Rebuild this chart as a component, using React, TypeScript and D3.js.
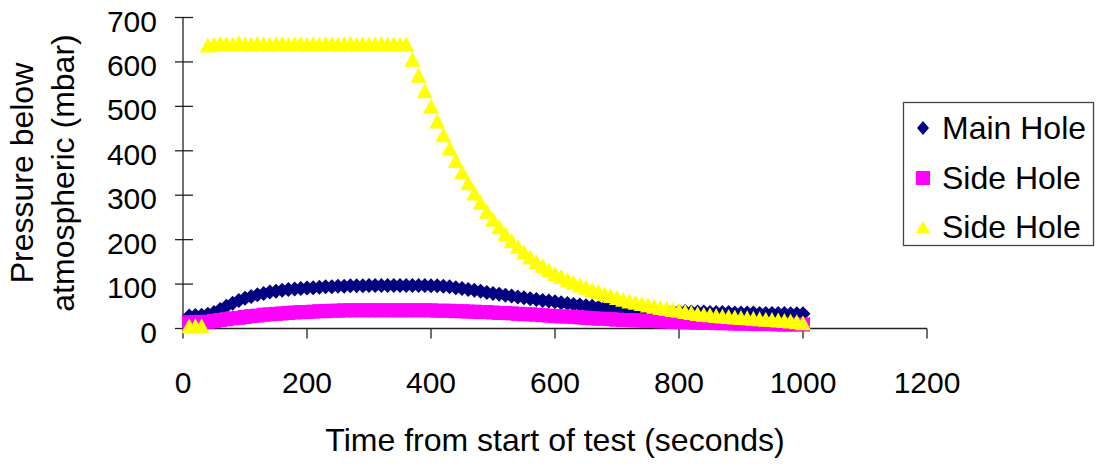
import React, { useRef, useEffect } from "react";
import * as d3 from "d3";

// Sample times (seconds)
const times = [
  10, 20, 30, 40, 50, 60, 70, 80, 90, 100,
  110, 120, 130, 140, 150, 160, 170, 180, 190, 200,
  210, 220, 230, 240, 250, 260, 270, 280, 290, 300,
  310, 320, 330, 340, 350, 360, 370, 380, 390, 400,
  410, 420, 430, 440, 450, 460, 470, 480, 490, 500,
  510, 520, 530, 540, 550, 560, 570, 580, 590, 600,
  610, 620, 630, 640, 650, 660, 670, 680, 690, 700,
  710, 720, 730, 740, 750, 760, 770, 780, 790, 800,
  810, 820, 830, 840, 850, 860, 870, 880, 890, 900,
  910, 920, 930, 940, 950, 960, 970, 980, 990, 1000,
];

// Main Hole (mbar)
const mainHole = [
  28, 29, 30, 32, 36, 43, 50, 57, 63, 68,
  72, 76, 79, 82, 84, 86, 88, 89, 90, 91,
  92, 93, 94, 94, 95, 95, 96, 96, 96, 97,
  97, 97, 97, 97, 97, 97, 97, 97, 97, 96,
  96, 95, 94, 92, 90, 88, 86, 84, 81, 79,
  77, 75, 73, 71, 69, 67, 65, 63, 62, 60,
  58, 56, 54, 53, 51, 50, 48, 47, 46, 45,
  44, 43, 42, 41, 40, 40, 39, 39, 38, 38,
  38, 37, 37, 37, 36, 36, 36, 36, 35, 35,
  35, 35, 34, 34, 34, 34, 34, 33, 33, 33,
];

// Side Hole (first)
const sideHoleA = [
  14, 14, 15, 15, 17, 19, 21, 23, 24, 26,
  28, 29, 31, 32, 33, 34, 35, 36, 37, 37,
  38, 39, 39, 40, 40, 41, 41, 41, 41, 41,
  41, 41, 41, 41, 41, 41, 41, 41, 41, 41,
  40, 40, 40, 39, 39, 38, 38, 37, 37, 36,
  35, 35, 34, 33, 32, 32, 31, 30, 29, 28,
  27, 27, 26, 25, 24, 23, 22, 22, 21, 20,
  19, 19, 18, 18, 17, 17, 16, 16, 15, 15,
  14, 14, 13, 13, 13, 12, 12, 12, 11, 11,
  11, 10, 10, 10, 10, 9, 9, 9, 9, 9,
];

// Side Hole (second)
const sideHoleB = [
  6, 6, 6, 638, 640, 642, 641, 640, 643, 641,
  640, 642, 641, 640, 641, 642, 640, 641, 642, 640,
  641, 640, 642, 641, 640, 641, 642, 640, 641, 640,
  641, 642, 640, 641, 640, 641, 606, 570, 535, 500,
  467, 436, 406, 378, 352, 328, 305, 284, 264, 246,
  229, 213, 198, 185, 172, 161, 150, 141, 132, 124,
  117, 110, 104, 98, 93, 88, 83, 78, 74, 70,
  66, 62, 59, 56, 53, 50, 47, 45, 43, 41,
  38, 36, 34, 32, 31, 29, 28, 27, 26, 25,
  24, 23, 22, 21, 20, 19, 18, 17, 15, 13,
];

const xTicks = [0, 200, 400, 600, 800, 1000, 1200];
const yTicks = [0, 100, 200, 300, 400, 500, 600, 700];

const seriesNames = ["Main Hole", "Side Hole", "Side Hole"];
const seriesColors = ["#000080", "#FF00FF", "#FFFF00"];
const seriesShapes = ["diamond", "square", "triangle"];

const FONT = "'Liberation Sans', Arial, sans-serif";

// marker path centered on 0,0
function markerPath(shape: string, w: number, h: number) {
  const p = d3.path();
  if (shape === "diamond") {
    p.moveTo(0, -h / 2);
    p.lineTo(w / 2, 0);
    p.lineTo(0, h / 2);
    p.lineTo(-w / 2, 0);
  } else if (shape === "square") {
    p.rect(-w / 2, -h / 2, w, h);
  } else {
    p.moveTo(0, -h / 2);
    p.lineTo(w / 2, h / 2);
    p.lineTo(-w / 2, h / 2);
  }
  p.closePath();
  return p.toString();
}

const plotSizes: Record<string, [number, number]> = {
  diamond: [15, 15],
  square: [14, 14],
  triangle: [16, 15],
};
const legendSizes: Record<string, [number, number]> = {
  diamond: [12, 14],
  square: [14, 14],
  triangle: [14, 12],
};

const App: React.FC = () => {
  const svgRef = useRef<SVGSVGElement>(null);

  useEffect(() => {
    if (!svgRef.current) return;
    const svg = d3.select(svgRef.current);
    svg.selectAll("*").remove();

    const x = d3.scaleLinear().domain([0, 1200]).range([183, 927]);
    const y = d3.scaleLinear().domain([0, 700]).range([328.5, 17.5]);

    const axisColor = "#222";

    // Y axis
    svg.append("line")
      .attr("x1", x(0)).attr("x2", x(0))
      .attr("y1", y(700)).attr("y2", y(0))
      .attr("stroke", axisColor).attr("stroke-width", 1.3);
    svg.selectAll(".ytick")
      .data(yTicks)
      .enter()
      .append("line")
      .attr("x1", x(0) - 8).attr("x2", x(0) + 10)
      .attr("y1", d => y(d)).attr("y2", d => y(d))
      .attr("stroke", axisColor).attr("stroke-width", 1.3);
    svg.selectAll(".ylab")
      .data(yTicks)
      .enter()
      .append("text")
      .attr("x", 157)
      .attr("y", d => y(d) + 14)
      .attr("text-anchor", "end")
      .style("font-family", FONT)
      .style("font-size", "30px")
      .text(d => d);

    // X axis
    svg.append("line")
      .attr("x1", x(0)).attr("x2", x(1200))
      .attr("y1", y(0)).attr("y2", y(0))
      .attr("stroke", axisColor).attr("stroke-width", 1.3);
    svg.selectAll(".xtick")
      .data(xTicks)
      .enter()
      .append("line")
      .attr("x1", d => x(d)).attr("x2", d => x(d))
      .attr("y1", y(0)).attr("y2", y(0) + 10)
      .attr("stroke", axisColor).attr("stroke-width", 1.3);
    svg.selectAll(".xlab")
      .data(xTicks)
      .enter()
      .append("text")
      .attr("x", d => x(d))
      .attr("y", 393)
      .attr("text-anchor", "middle")
      .style("font-family", FONT)
      .style("font-size", "30px")
      .text(d => d);

    // Axis titles
    svg.append("text")
      .attr("x", (x(0) + x(1200)) / 2)
      .attr("y", 451)
      .attr("text-anchor", "middle")
      .style("font-family", FONT)
      .style("font-size", "32px")
      .text("Time from start of test (seconds)");

    const yTitle = svg.append("text")
      .attr("transform", `translate(0,${(y(0) + y(700)) / 2}) rotate(-90)`)
      .attr("text-anchor", "middle")
      .style("font-family", FONT)
      .style("font-size", "32px");
    yTitle.append("tspan").attr("x", 0).attr("y", 33).text("Pressure below");
    yTitle.append("tspan").attr("x", 0).attr("y", 74).text("atmospheric (mbar)");

    // Series markers
    const allSeries = [mainHole, sideHoleA, sideHoleB];
    allSeries.forEach((values, si) => {
      const shape = seriesShapes[si];
      const [w, h] = plotSizes[shape];
      const path = markerPath(shape, w, h);
      svg.append("g")
        .selectAll("path")
        .data(values.map((v, i) => [times[i], v]))
        .enter()
        .append("path")
        .attr("d", path)
        .attr("transform", d => `translate(${x(d[0])},${y(d[1])})`)
        .attr("fill", seriesColors[si]);
    });

    // Legend
    const legend = svg.append("g");
    legend.append("rect")
      .attr("x", 903.5).attr("y", 102.5)
      .attr("width", 190).attr("height", 143)
      .attr("fill", "white")
      .attr("stroke", "#444").attr("stroke-width", 1.3);
    const rowY = [128, 178, 227];
    seriesNames.forEach((name, i) => {
      const shape = seriesShapes[i];
      const [w, h] = legendSizes[shape];
      legend.append("path")
        .attr("d", markerPath(shape, w, h))
        .attr("transform", `translate(923,${rowY[i]})`)
        .attr("fill", seriesColors[i]);
      legend.append("text")
        .attr("x", 942)
        .attr("y", rowY[i] + 11)
        .style("font-family", FONT)
        .style("font-size", "32px")
        .text(name);
    });
  }, []);

  return (
    <svg
      ref={svgRef}
      width={1098}
      height={468}
      style={{ position: "absolute", left: 0, top: 0, background: "white" }}
    />
  );
};

export default App;
